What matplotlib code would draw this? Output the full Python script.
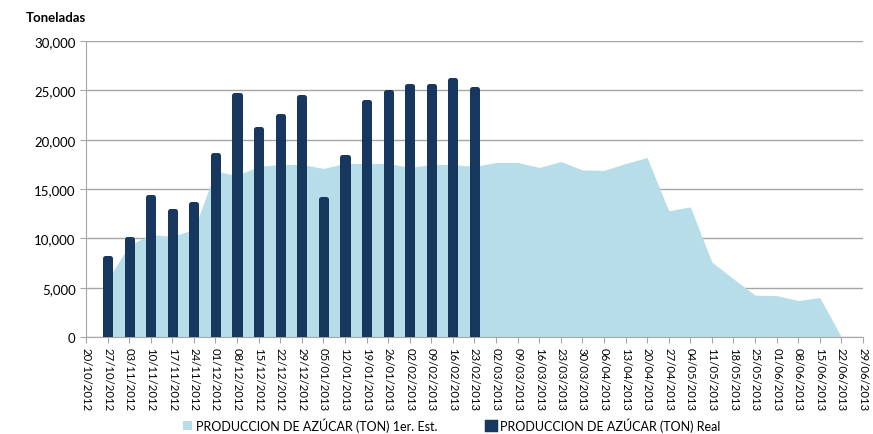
import matplotlib
matplotlib.use("Agg")
import matplotlib.pyplot as plt
from matplotlib.patches import Patch
import numpy as np

plt.rcParams['font.family'] = ['Lato', 'DejaVu Sans']

# Weekly dates on the category axis
semanas = [
    "20/10/2012", "27/10/2012", "03/11/2012", "10/11/2012", "17/11/2012",
    "24/11/2012", "01/12/2012", "08/12/2012", "15/12/2012", "22/12/2012",
    "29/12/2012", "05/01/2013", "12/01/2013", "19/01/2013", "26/01/2013",
    "02/02/2013", "09/02/2013", "16/02/2013", "23/02/2013", "02/03/2013",
    "09/03/2013", "16/03/2013", "23/03/2013", "30/03/2013", "06/04/2013",
    "13/04/2013", "20/04/2013", "27/04/2013", "04/05/2013", "11/05/2013",
    "18/05/2013", "25/05/2013", "01/06/2013", "08/06/2013", "15/06/2013",
    "22/06/2013", "29/06/2013",
]

# First estimate (area), weeks 27/10/2012 .. 22/06/2013
estimado = [
    5800, 9300, 10400, 10200, 10900, 16800, 16400, 17300, 17500, 17500,
    17100, 17600, 17600, 17600, 17200, 17500, 17500, 17300, 17700, 17700,
    17200, 17800, 16950, 16900, 17600, 18200, 12800, 13200, 7600, 5900,
    4250, 4200, 3700, 4000, 0,
]

# Actual production (bars), weeks 27/10/2012 .. 23/02/2013
real = [
    8000, 9900, 14200, 12800, 13500, 18500, 24500, 21100, 22400, 24300,
    14000, 18300, 23800, 24800, 25500, 25500, 26100, 25200,
]

color_area = "#B7DEE8"
color_bar = "#17375E"
color_grid = "#A6A6A6"

fig = plt.figure(figsize=(8.73, 4.35), dpi=100)
ax = fig.add_axes([0.0985, 0.223, 0.89, 0.680])

x_area = np.arange(1, 1 + len(estimado))
x_bar = np.arange(1, 1 + len(real))

ax.fill_between(x_area, 0, estimado, color=color_area, linewidth=0, zorder=2)
ax.bar(x_bar, real, width=0.24, color=color_bar, edgecolor=color_bar,
       linewidth=3.6, joinstyle="round", zorder=3)

ax.set_xlim(0, len(semanas) - 1)
ax.set_ylim(0, 30000)
ax.set_yticks(np.arange(0, 30001, 5000))
ax.set_yticklabels([f"{v:,}" for v in range(0, 30001, 5000)], fontsize=9.5)
ax.set_xticks(np.arange(len(semanas)))
ax.set_xticklabels(semanas, rotation=270, fontsize=8.2)

ax.yaxis.grid(True, color=color_grid, linewidth=1)
ax.set_axisbelow(True)
for side in ("top", "right"):
    ax.spines[side].set_visible(False)
for side in ("left", "bottom"):
    ax.spines[side].set_color(color_grid)
ax.tick_params(axis="both", colors=color_grid, labelcolor="black", length=4)
ax.tick_params(axis="x", pad=3)

fig.text(0.03, 0.958, "Toneladas", fontsize=9.5, fontweight="bold", ha="left", va="center")

handles = [
    Patch(facecolor=color_area, edgecolor=color_area, linewidth=0,
          label="PRODUCCION DE AZÚCAR (TON) 1er. Est."),
    Patch(facecolor=color_bar, edgecolor=color_bar, joinstyle="round", linewidth=2.5,
          label="PRODUCCION DE AZÚCAR (TON) Real"),
]
fig.legend(handles=handles, loc="center left", bbox_to_anchor=(183 / 873, 9 / 435), ncol=2,
           frameon=False, fontsize=9, handlelength=0.75, handleheight=0.75,
           handletextpad=0.3, columnspacing=3.9, borderpad=0, borderaxespad=0)

fig.savefig("out.png", dpi=100)
